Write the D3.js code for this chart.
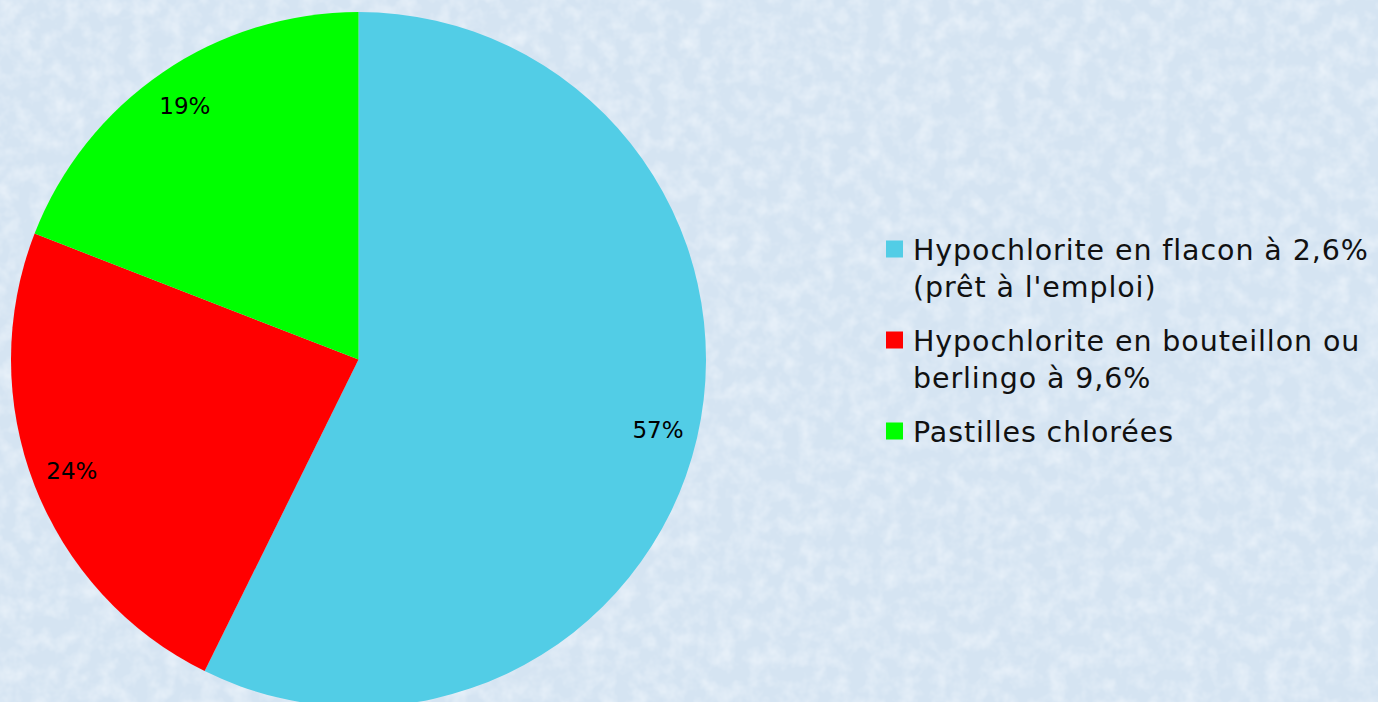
<!DOCTYPE html>
<html>
<head>
<meta charset="utf-8">
<script src="https://cdn.jsdelivr.net/npm/d3@7"></script>
<style>
  html, body { margin: 0; padding: 0; background: #d7e6f4; }
  svg { display: block; }
</style>
</head>
<body>
<svg width="1378" height="702"></svg>
<script>
// data
var categories = ["Hypochlorite en flacon à 2,6% (prêt à l'emploi)",
                  "Hypochlorite en bouteillon ou berlingo à 9,6%",
                  "Pastilles chlorées"];
var legendLines = [["Hypochlorite en flacon à 2,6%", "(prêt à l'emploi)"],
                   ["Hypochlorite en bouteillon ou", "berlingo à 9,6%"],
                   ["Pastilles chlorées"]];
var values = [57.3, 23.6, 19.1];
var colors = ["#52cde6", "#ff0000", "#00ff00"];

var svg = d3.select("svg"),
    width = +svg.attr("width"),
    height = +svg.attr("height"),
    font = "'DejaVu Sans', sans-serif";

// textured pale blue background
var defs = svg.append("defs");
var f = defs.append("filter").attr("id", "tex").attr("x", 0).attr("y", 0).attr("width", "100%").attr("height", "100%");
f.append("feTurbulence").attr("type", "fractalNoise").attr("baseFrequency", 0.06).attr("numOctaves", 3).attr("seed", 4).attr("result", "n");
f.append("feColorMatrix").attr("in", "n").attr("type", "matrix")
  .attr("values", "0 0 0 0 0.94  0 0 0 0 0.97  0 0 0 0 1  0 0 0 -1.0 0.62");
svg.append("rect").attr("width", width).attr("height", height).attr("fill", "#d5e4f2");
svg.append("rect").attr("width", width).attr("height", height).attr("fill", "#ffffff").attr("filter", "url(#tex)");

var cx = 358.5, cy = 359.5, radius = 347.5;

var pie = d3.pie().sort(null).value(function(d) { return d; });
var arc = d3.arc().innerRadius(0).outerRadius(radius);
var labelArc = d3.arc().innerRadius(radius * 0.885).outerRadius(radius * 0.885);

var g = svg.append("g").attr("transform", "translate(" + cx + "," + cy + ")");
var arcs = pie(values);

g.selectAll("path.slice")
  .data(arcs)
  .enter().append("path")
    .attr("class", "slice")
    .attr("d", arc)
    .attr("fill", function(d, i) { return colors[i]; });

g.selectAll("text.pct")
  .data(arcs)
  .enter().append("text")
    .attr("class", "pct")
    .attr("transform", function(d) { return "translate(" + labelArc.centroid(d) + ")"; })
    .attr("text-anchor", "middle")
    .attr("dy", "0.36em")
    .style("font-family", font)
    .style("font-size", "23px")
    .style("fill", "#000")
    .text(function(d) {
      var tot = d3.sum(values);
      return Math.round(d.data / tot * 100) + "%";
    });

// legend
var legendTop = [259.5, 350.5, 441.5], lineH = 37.5;
var leg = svg.append("g").attr("transform", "translate(886,0)");
var items = leg.selectAll("g.item")
  .data(categories)
  .enter().append("g")
    .attr("class", "item");

items.append("rect")
  .attr("x", 0)
  .attr("y", function(d, i) { return legendTop[i] - 19; })
  .attr("width", 17)
  .attr("height", 17)
  .attr("fill", function(d, i) { return colors[i]; });

items.append("text")
  .attr("x", 27)
  .attr("y", function(d, i) { return legendTop[i]; })
  .style("font-family", font)
  .style("font-size", "28.5px")
  .style("letter-spacing", "0.9px")
  .style("fill", "#111")
  .each(function(d, i) {
    var t = d3.select(this);
    legendLines[i].forEach(function(line, j) {
      t.append("tspan").attr("x", 27).attr("y", legendTop[i] + j * lineH).text(line);
    });
  });
</script>
</body>
</html>
